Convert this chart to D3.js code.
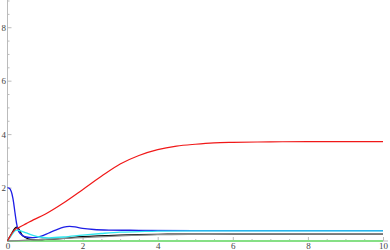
<!DOCTYPE html>
<html>
<head>
  <script src="https://d3js.org/d3.v7.min.js"></script>
  <style>
    body { margin: 0; background: #fff; }
    .axis text { font-family: "Liberation Serif", "DejaVu Serif", serif; font-size: 9px; fill: #444; }
  </style>
</head>
<body>
  <div id="chart"></div>
  <script>
    // data
    const xTicks = [0, 2, 4, 6, 8, 10];
    const yTicks = [2, 4, 6, 8];

    const redT = [0, 0.1, 0.2, 0.3, 0.5, 0.7, 1.0, 1.5, 2.0, 2.5, 3.0, 3.5, 4.0, 4.5, 5.0, 5.5, 6.0, 7.0, 8.0, 10];
    const redV = [0, 0.25, 0.43, 0.5, 0.65, 0.8, 1.0, 1.43, 1.92, 2.42, 2.88, 3.2, 3.42, 3.55, 3.62, 3.67, 3.69, 3.71, 3.72, 3.72];

    const blueT = [0, 0.05, 0.1, 0.15, 0.2, 0.25, 0.3, 0.4, 0.5, 0.7, 0.9, 1.1, 1.3, 1.5, 1.65, 1.8, 2.0, 2.3, 2.7, 3.5, 5, 10];
    const blueV = [2.0, 1.97, 1.85, 1.55, 1.05, 0.6, 0.35, 0.2, 0.15, 0.13, 0.18, 0.3, 0.42, 0.52, 0.55, 0.53, 0.47, 0.43, 0.41, 0.40, 0.39, 0.385];

    const cyanT = [0, 0.1, 0.2, 0.25, 0.35, 0.5, 0.7, 0.9, 1.1, 1.5, 2.0, 2.5, 3.0, 3.5, 4.0, 5, 10];
    const cyanV = [0, 0.2, 0.38, 0.41, 0.38, 0.3, 0.2, 0.14, 0.12, 0.15, 0.22, 0.28, 0.33, 0.35, 0.37, 0.38, 0.38];

    const blackT = [0, 0.1, 0.2, 0.25, 0.3, 0.4, 0.55, 0.7, 1.0, 1.5, 2.0, 3.0, 4.0, 5, 6, 10];
    const blackV = [0, 0.25, 0.48, 0.52, 0.45, 0.2, 0.08, 0.05, 0.06, 0.1, 0.16, 0.22, 0.25, 0.255, 0.255, 0.255];

    const grayT = [0, 0.5, 1, 2, 3, 4, 5, 6, 10];
    const grayV = [0, 0.03, 0.06, 0.13, 0.19, 0.235, 0.25, 0.255, 0.255];

    const greenT = [0, 10];
    const greenV = [0, 0];

    const width = 390, height = 250;
    const svg = d3.select("#chart").append("svg")
      .attr("width", width)
      .attr("height", height);

    const xScale = d3.scaleLinear().domain([0, 10]).range([7.5, 383]);
    const yScale = d3.scaleLinear().domain([0, 9]).range([241, 0.5]);

    // axes, Mathematica style: gray lines, ticks pointing inside
    const xAxis = svg.append("g")
      .attr("class", "axis")
      .attr("transform", `translate(0,${yScale(0)})`)
      .call(d3.axisBottom(xScale).tickValues(d3.range(0, 10.01, 0.5)).tickSize(0).tickFormat(""));
    xAxis.select(".domain").remove();
    xAxis.append("line").attr("x1", xScale(0)).attr("x2", 388).attr("stroke", "#bbb");
    xAxis.selectAll(".tick line")
      .attr("stroke", "#bbb")
      .attr("y2", d => xTicks.includes(d) ? -4 : -2);
    xAxis.selectAll(".tick").filter(d => xTicks.includes(d))
      .append("text")
      .attr("y", 8)
      .attr("text-anchor", "middle")
      .text(d => d);

    const yAxis = svg.append("g")
      .attr("class", "axis")
      .attr("transform", `translate(${xScale(0)},0)`)
      .call(d3.axisLeft(yScale).tickValues(d3.range(0.5, 9.01, 0.5)).tickSize(0).tickFormat(""));
    yAxis.select(".domain").remove();
    yAxis.append("line").attr("y1", yScale(0)).attr("y2", 0).attr("stroke", "#bbb");
    yAxis.selectAll(".tick line")
      .attr("stroke", "#bbb")
      .attr("x2", d => yTicks.includes(d) ? 4 : 2);
    yAxis.selectAll(".tick").filter(d => yTicks.includes(d))
      .append("text")
      .attr("x", -1.5)
      .attr("dy", "0.35em")
      .attr("text-anchor", "end")
      .text(d => d);

    const line = d3.line()
      .x(d => xScale(d[0]))
      .y(d => yScale(d[1]))
      .curve(d3.curveCatmullRom.alpha(0.5));

    // black under gray so gray shows where they meet
    const series = [
      {t: greenT, v: greenV, color: "#86e086", w: 2},
      {t: blackT, v: blackV, color: "#000", w: 1.3},
      {t: grayT, v: grayV, color: "#8a8a8a", w: 1.3},
      {t: blueT, v: blueV, color: "#1e1ee6", w: 1.3},
      {t: cyanT, v: cyanV, color: "#2ee6ee", w: 1.3},
      {t: redT, v: redV, color: "#f01818", w: 1.2}
    ];

    svg.selectAll("path.curve")
      .data(series)
      .enter()
      .append("path")
        .attr("class", "curve")
        .attr("d", d => line(d3.zip(d.t, d.v)))
        .attr("fill", "none")
        .attr("stroke", d => d.color)
        .attr("stroke-width", d => d.w);
  </script>
</body>
</html>
